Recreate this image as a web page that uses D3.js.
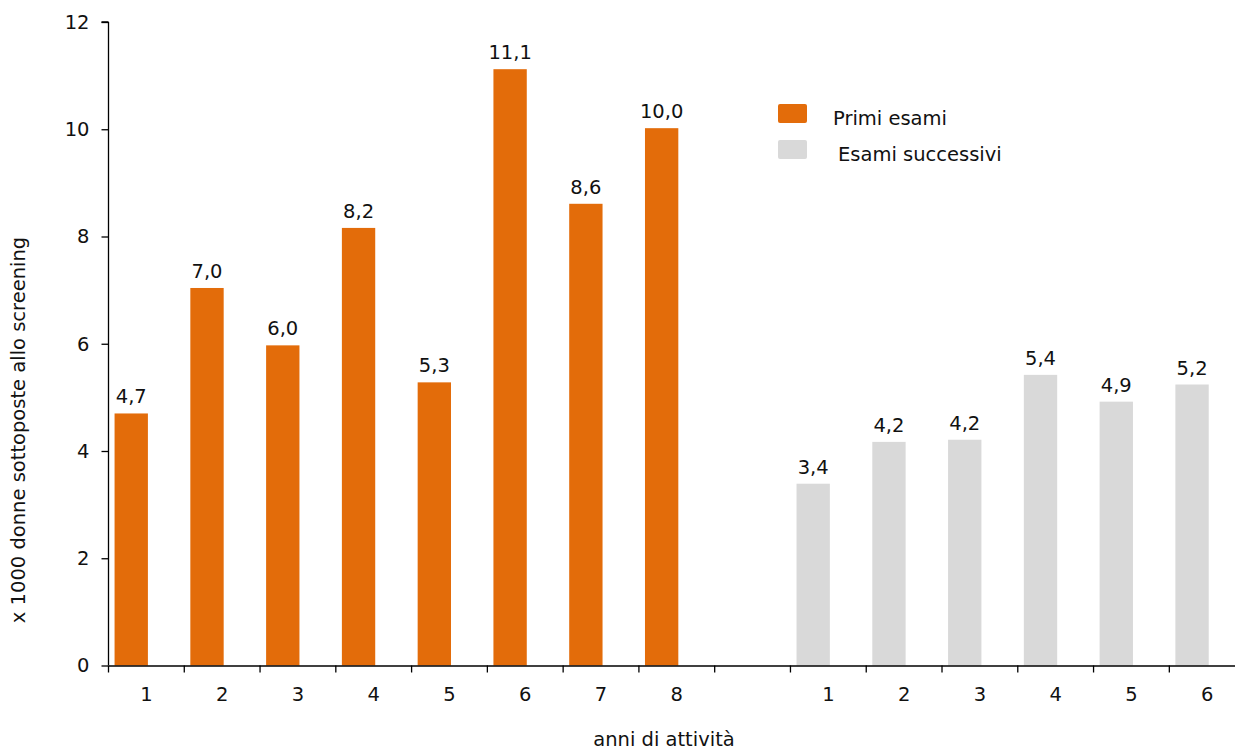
<!DOCTYPE html>
<html><head><meta charset="utf-8">
<script src="https://cdn.jsdelivr.net/npm/d3@7"></script>
<style>body{margin:0;background:#fff}text{font-family:"DejaVu Sans",Verdana,sans-serif;fill:#111}</style>
</head><body><svg id="c" width="1235" height="751"></svg>
<script>
const firstYears = ["1","2","3","4","5","6","7","8"];
const firstValues = [4.70, 7.04, 5.97, 8.16, 5.28, 11.12, 8.61, 10.02];
const nextYears = ["1","2","3","4","5","6"];
const nextValues = [3.39, 4.17, 4.21, 5.42, 4.92, 5.24];
const seriesNames = ["Primi esami", "Esami successivi"];
const yTicks = [0, 2, 4, 6, 8, 10, 12];
const xTitle = "anni di attività";
const yTitle = "x 1000 donne sottoposte allo screening";
const colors = ["#E36C0A", "#D9D9D9"];
const FS = 19.5;

const rows = [];
firstYears.forEach((c, i) => rows.push({key: "a" + i, label: c, v: firstValues[i], s: 0}));
rows.push({key: "gap", label: "", v: null, s: -1});
nextYears.forEach((c, i) => rows.push({key: "b" + i, label: c, v: nextValues[i], s: 1}));

const svg = d3.select("#c");
const x = d3.scaleBand().domain(rows.map(r => r.key)).range([108.5, 1245.1]).padding(0);
const y = d3.scaleLinear().domain([0, 12]).range([665.5, 22]);
const bw = x.bandwidth();
const fmt = v => d3.format(".1f")(v).replace(".", ",");

// bars
const bars = rows.filter(r => r.v != null);
svg.append("g").selectAll("rect").data(bars).join("rect")
  .attr("x", d => x(d.key) + bw * 0.08)
  .attr("width", bw * 0.44)
  .attr("y", d => y(d.v))
  .attr("height", d => y(0) - y(d.v))
  .attr("fill", d => colors[d.s]);

svg.append("g").selectAll("text").data(bars).join("text")
  .attr("x", d => x(d.key) + bw * 0.08 + bw * 0.22)
  .attr("y", d => y(d.v) - 10)
  .attr("text-anchor", "middle")
  .attr("font-size", FS)
  .text(d => fmt(d.v));

// y axis
const yAxis = svg.append("g").attr("transform", "translate(108.5,0)")
  .call(d3.axisLeft(y).tickValues(yTicks).tickSize(7).tickPadding(12).tickFormat(d3.format("d")));
yAxis.select(".domain").attr("stroke", "#000").attr("stroke-width", 1.3).attr("d", `M0,${y(12)}V${y(0)}M-7,${y(12)}H0`);
yAxis.selectAll(".tick line").attr("stroke", "#000").attr("stroke-width", 1.3);
yAxis.selectAll(".tick text").attr("font-size", FS).attr("font-family", "DejaVu Sans, Verdana, sans-serif").attr("fill", "#111");

// x axis
const xAxis = svg.append("g").attr("transform", `translate(0,${y(0)})`)
  .call(d3.axisBottom(x).tickSize(0).tickPadding(22).tickFormat(k => rows.find(r => r.key === k).label));
xAxis.select(".domain").attr("stroke", "#000").attr("stroke-width", 1.3);
xAxis.selectAll(".tick text").attr("font-size", FS).attr("font-family", "DejaVu Sans, Verdana, sans-serif").attr("fill", "#111");
svg.append("g").selectAll("line").data(rows).join("line")
  .attr("x1", d => x(d.key)).attr("x2", d => x(d.key))
  .attr("y1", y(0)).attr("y2", y(0) + 7)
  .attr("stroke", "#000").attr("stroke-width", 1.3);

// titles
svg.append("text").attr("x", 664).attr("y", 746).attr("text-anchor", "middle")
  .attr("font-size", FS).text(xTitle);
svg.append("text").attr("transform", "translate(25,430) rotate(-90)").attr("text-anchor", "middle")
  .attr("font-size", FS).text(yTitle);

// legend
const leg = svg.append("g");
seriesNames.forEach((n, i) => {
  leg.append("rect").attr("x", 778).attr("y", 104 + i * 36).attr("width", 29).attr("height", 19)
    .attr("rx", 2).attr("fill", colors[i]);
  leg.append("text").attr("x", 833 + i * 5).attr("y", 125 + i * 35.5).attr("font-size", FS).text(n);
});
</script></body></html>
